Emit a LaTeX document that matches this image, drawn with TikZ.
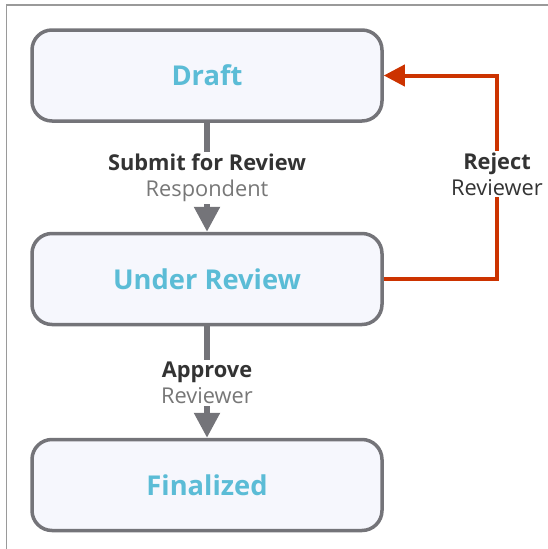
\documentclass[tikz,border=0pt]{standalone}
\usepackage{fontspec}
\setmainfont{Open Sans}
\usetikzlibrary{arrows.meta}

\definecolor{boxline}{HTML}{747479}
\definecolor{boxfill}{HTML}{F6F7FD}
\definecolor{titlecol}{HTML}{5BBCD6}
\definecolor{darktxt}{HTML}{333333}
\definecolor{greytxt}{HTML}{777777}
\definecolor{rejectcol}{HTML}{CC3300}
\definecolor{framecol}{HTML}{9A9A9A}

\tikzset{
  stbox/.style={draw=boxline, line width=3.5pt, fill=boxfill, rounded corners=20pt,
    minimum width=350pt, minimum height=91pt, text=titlecol,
    font=\fontsize{27.3}{32}\selectfont\bfseries},
  flow/.style={draw=boxline, line width=5.5pt, -{Triangle[length=25pt,width=25pt]}},
  back/.style={draw=rejectcol, line width=4pt, -{Triangle[length=21pt,width=21pt]}},
  lbl/.style={fill=white, align=center, inner xsep=2pt, inner ysep=2pt,
    font=\fontsize{21.8}{26}\selectfont}
}

\begin{document}
\begin{tikzpicture}[x=1pt, y=-1pt]
  \useasboundingbox (0,0) rectangle (548,549);

  % frame
  \draw[framecol, line width=1.5pt] (6.5,549) -- (6.5,5) -- (548,5);

  % states
  \node[stbox] (draft)  at (207,75.5) {Draft};
  \node[stbox] (review) at (207,279) {Under Review};
  \node[stbox] (final)  at (207,485) {Finalized};

  % transitions
  \draw[flow] (draft.south) -- (review.north)
    node[lbl, midway, yshift=-1pt] (submit) {\textcolor{darktxt}{\bfseries Submit for Review}\\\textcolor{greytxt}{Respondent}};
  \draw[flow] (review.south) -- (final.north)
    node[lbl, midway, yshift=-1pt] (approve) {\textcolor{darktxt}{\bfseries Approve}\\\textcolor{greytxt}{Reviewer}};

  % reject goes back up
  \coordinate (turn) at (497,279);
  \draw[back] (review.east) -- (turn) |- (draft.east);
  \node[lbl] (reject) at (497,174) {\textcolor{darktxt}{\bfseries Reject}\\\textcolor{darktxt}{Reviewer}};

\end{tikzpicture}
\end{document}
